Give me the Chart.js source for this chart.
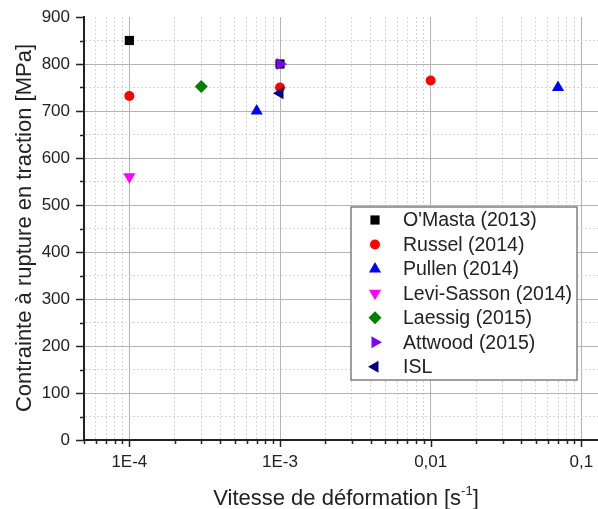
<!DOCTYPE html>
<html><head><meta charset="utf-8">
<script src="https://cdn.jsdelivr.net/npm/chart.js@4/dist/chart.umd.min.js"></script>
<style>html,body{margin:0;padding:0;background:#fff;overflow:hidden}#wrap{width:598px;height:509px;position:relative}</style>
</head><body><div id="wrap"><canvas id="c" width="598" height="509"></canvas></div>
<script>
// ---- data ----
const seriesNames = ["O'Masta (2013)", "Russel (2014)", "Pullen (2014)", "Levi-Sasson (2014)", "Laessig (2015)", "Attwood (2015)", "ISL"];
const omastaRate = [1e-4, 1e-3];          const omastaStress = [850, 800];
const russelRate = [1e-4, 1e-3, 1e-2];    const russelStress = [732, 750, 765];
const pullenRate = [7e-4, 0.07];          const pullenStress = [700, 750];
const leviRate = [1e-4];                  const leviStress = [560];
const laessigRate = [3e-4];               const laessigStress = [752];
const attwoodRate = [1e-3];               const attwoodStress = [800];
const islRate = [1e-3];                   const islStress = [738];
const xTickValues = [1e-4, 1e-3, 1e-2, 1e-1];
const xTickLabels = ['1E-4', '1E-3', '0,01', '0,1'];
const yTickValues = [0, 100, 200, 300, 400, 500, 600, 700, 800, 900];
const xTitle = 'Vitesse de déformation [s';
const xTitleSup = '-1';
const xTitleEnd = ']';
const yTitle = 'Contrainte à rupture en traction [MPa]';

const FONT = '"Liberation Sans", Arial, sans-serif';
const TXT = '#222';

function pts(xs, ys){ return xs.map((x,i)=>({x:x, y:ys[i]})); }
const styles = [
  {c:'#000000', s:'rect', r:6.5, rot:0},
  {c:'#ff0000', s:'circle', r:5, rot:0},
  {c:'#0000ff', s:'triangle', r:7, rot:0},
  {c:'#ff00ff', s:'triangle', r:7, rot:180},
  {c:'#008000', s:'rectRot', r:6.5, rot:0},
  {c:'#8000ff', s:'triangle', r:7, rot:90},
  {c:'#000080', s:'triangle', r:7, rot:-90}
];
const dataArrays = [
  pts(omastaRate, omastaStress), pts(russelRate, russelStress), pts(pullenRate, pullenStress),
  pts(leviRate, leviStress), pts(laessigRate, laessigStress), pts(attwoodRate, attwoodStress), pts(islRate, islStress)
];
const datasets = dataArrays.map((d,i)=>({
  label: seriesNames[i], data: d, order: seriesNames.length - i,
  pointStyle: styles[i].s, pointRotation: styles[i].rot, pointRadius: styles[i].r,
  pointBackgroundColor: styles[i].c, pointBorderColor: styles[i].c, pointBorderWidth: 0,
  showLine: false
}));

function isMajorX(v){ return xTickValues.some(t => Math.abs(v - t) / t < 1e-6); }
function labelX(v){ const i = xTickValues.findIndex(t => Math.abs(v - t) / t < 1e-6); return i >= 0 ? xTickLabels[i] : ''; }
function isMajorY(v){ return yTickValues.includes(v); }

const X_MIN = 5e-5, X_MAX = 0.129;

function zeroPad(scale){ scale.paddingTop = 0; scale.paddingBottom = 0; scale.paddingLeft = 0; scale.paddingRight = 0; }

const decorPlugin = {
  id: 'decor',
  afterDraw(chart){
    const ctx = chart.ctx, ca = chart.chartArea;
    const xs = chart.scales.x, ys = chart.scales.y;
    ctx.save();
    // tick marks
    ctx.strokeStyle = TXT; ctx.lineWidth = 1.5;
    xs.ticks.forEach(t => {
      const px = Math.round(xs.getPixelForValue(t.value)) + 0.5;
      const len = isMajorX(t.value) ? 7 : 4;
      ctx.beginPath(); ctx.moveTo(px, ca.bottom); ctx.lineTo(px, ca.bottom + len); ctx.stroke();
    });
    ys.ticks.forEach(t => {
      const py = Math.round(ys.getPixelForValue(t.value)) + 0.5;
      const len = isMajorY(t.value) ? 8 : 4;
      ctx.beginPath(); ctx.moveTo(ca.left, py); ctx.lineTo(ca.left - len, py); ctx.stroke();
    });
    // legend
    const lx = 351, ly = 207, lw = 226, lh = 173;
    ctx.fillStyle = '#fff'; ctx.fillRect(lx, ly, lw, lh);
    ctx.strokeStyle = '#808080'; ctx.lineWidth = 1.5; ctx.strokeRect(lx, ly, lw, lh);
    ctx.font = '19.5px ' + FONT; ctx.textBaseline = 'middle'; ctx.textAlign = 'left';
    chart.data.datasets.forEach((ds, i) => {
      const y = 220 + i * 24.45;
      ctx.fillStyle = ds.pointBackgroundColor; ctx.strokeStyle = ds.pointBorderColor;
      Chart.helpers.drawPoint(ctx, {pointStyle: ds.pointStyle, rotation: ds.pointRotation, radius: ds.pointRadius, borderWidth: 0}, 375, y);
      ctx.fillStyle = TXT; ctx.fillText(ds.label, 403, y + 1);
    });
    // axis titles
    ctx.fillStyle = TXT;
    ctx.font = '22px ' + FONT;
    const w1 = ctx.measureText(xTitle).width;
    ctx.font = '13px ' + FONT;
    const w2 = ctx.measureText(xTitleSup).width;
    ctx.font = '22px ' + FONT;
    const w3 = ctx.measureText(xTitleEnd).width;
    let sx = 346 - (w1 + w2 + w3) / 2;
    const by = 505;
    ctx.textBaseline = 'alphabetic';
    ctx.fillText(xTitle, sx, by);
    ctx.font = '13px ' + FONT; ctx.fillText(xTitleSup, sx + w1, by - 10);
    ctx.font = '22px ' + FONT; ctx.fillText(xTitleEnd, sx + w1 + w2, by);
    ctx.translate(25, 228); ctx.rotate(-Math.PI / 2);
    ctx.textAlign = 'center'; ctx.textBaseline = 'middle';
    ctx.fillText(yTitle, 0, 0);
    ctx.restore();
  }
};

new Chart(document.getElementById('c'), {
  type: 'scatter',
  data: { datasets },
  options: {
    responsive: false, animation: false, devicePixelRatio: 1,
    layout: { autoPadding: false, padding: { top: 17, right: 0, left: 0, bottom: 0 } },
    plugins: { legend: { display: false }, tooltip: { enabled: false } },
    scales: {
      x: {
        type: 'logarithmic', min: X_MIN, max: X_MAX,
        afterBuildTicks(scale){
          const out = [];
          for (let e = -5; e <= -1; e++) {
            for (let m = 1; m <= 9; m++) {
              const v = m * Math.pow(10, e);
              if (v >= X_MIN * 0.999 && v <= X_MAX) out.push({ value: v });
            }
          }
          scale.ticks = out;
        },
        afterFit(scale){ scale.height = 69; zeroPad(scale); },
        ticks: { autoSkip: false, maxRotation: 0, minRotation: 0, padding: 12, color: TXT,
                 font: { size: 17, family: FONT }, callback: (v) => labelX(v) },
        grid: { drawTicks: false, lineWidth: 1,
                color: (c) => c.tick ? (isMajorX(c.tick.value) ? '#b4b4b4' : '#d6d6d6') : '#ccc' },
        border: { display: true, color: TXT, width: 2,
                  dash: (c) => (c.tick && !isMajorX(c.tick.value)) ? [2, 2] : [] }
      },
      y: {
        type: 'linear', min: 0, max: 900,
        afterBuildTicks(scale){
          const out = [];
          for (let v = 0; v <= 900; v += 50) out.push({ value: v });
          scale.ticks = out;
        },
        afterFit(scale){ scale.width = 84; zeroPad(scale); },
        ticks: { autoSkip: false, padding: 14, color: TXT, font: { size: 17, family: FONT },
                 callback: (v) => isMajorY(v) ? String(v) : '' },
        grid: { drawTicks: false, lineWidth: 1,
                color: (c) => c.tick ? (c.tick.value === 900 ? 'rgba(0,0,0,0)' : (isMajorY(c.tick.value) ? '#b4b4b4' : '#d6d6d6')) : '#ccc' },
        border: { display: true, color: TXT, width: 2,
                  dash: (c) => (c.tick && !isMajorY(c.tick.value)) ? [2, 2] : [] }
      }
    }
  },
  plugins: [decorPlugin]
});
</script></body></html>
